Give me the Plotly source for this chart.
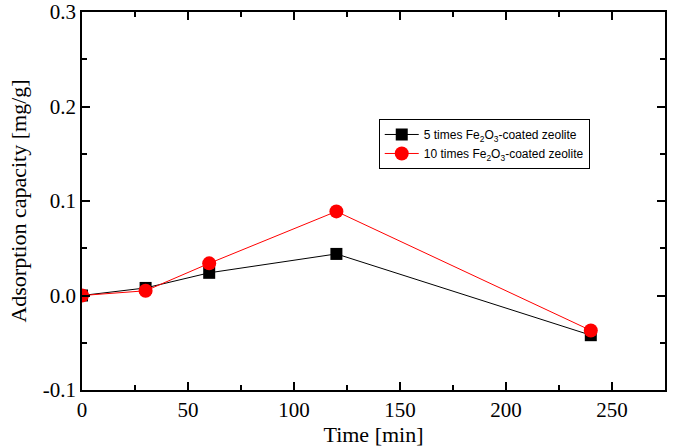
import plotly.graph_objects as go

time = [0, 30, 60, 120, 240]
fe5 = [0.0, 0.008, 0.024, 0.044, -0.042]
fe10 = [0.0, 0.005, 0.034, 0.089, -0.037]

fig = go.Figure()
fig.add_trace(go.Scatter(x=time, y=fe5, mode="lines+markers",
                         name="5 times Fe<sub>2</sub>O<sub>3</sub>-coated zeolite",
                         line=dict(color="black", width=1),
                         marker=dict(symbol="square", size=12, color="black")))
fig.add_trace(go.Scatter(x=time, y=fe10, mode="lines+markers",
                         name="10 times Fe<sub>2</sub>O<sub>3</sub>-coated zeolite",
                         line=dict(color="red", width=1),
                         marker=dict(symbol="circle", size=14, color="red")))

axis_common = dict(showgrid=False, zeroline=False, showline=True, linecolor="black",
                   linewidth=1.5, mirror="ticks", ticks="inside", ticklen=8,
                   tickcolor="black", tickwidth=1.5, automargin=False,
                   tickfont=dict(family="Liberation Serif", size=21, color="black"),
                   title_font=dict(family="Liberation Serif", size=22, color="black"))

fig.update_xaxes(range=[0, 275], tickvals=[0, 50, 100, 150, 200, 250],
                 minor=dict(ticks="inside", ticklen=5, tickvals=[25, 75, 125, 175, 225, 275],
                            tickcolor="black", tickwidth=1.5),
                 title_text="Time [min]", title_standoff=2, **axis_common)
fig.update_yaxes(range=[-0.1, 0.3], tickvals=[-0.1, 0.0, 0.1, 0.2, 0.3],
                 ticktext=["-0.1", "0.0", "0.1", "0.2", "0.3"],
                 minor=dict(ticks="inside", ticklen=5, tickvals=[-0.05, 0.05, 0.15, 0.25],
                            tickcolor="black", tickwidth=1.5),
                 title_text="Adsorption capacity [mg/g]", title_standoff=10, **axis_common)

fig.update_layout(
    width=673, height=448,
    margin=dict(l=82, r=8, t=12, b=58),
    plot_bgcolor="white", paper_bgcolor="white",
    showlegend=True,
    legend=dict(x=0.509, y=0.717, xanchor="left", yanchor="top",
                bordercolor="black", borderwidth=1, bgcolor="white",
                font=dict(family="Liberation Sans", size=12, color="black"),
                tracegroupgap=0, itemwidth=34),
)

fig.write_html("out.html", config={"displayModeBar": False},
               post_script="document.body.style.margin='0';")
